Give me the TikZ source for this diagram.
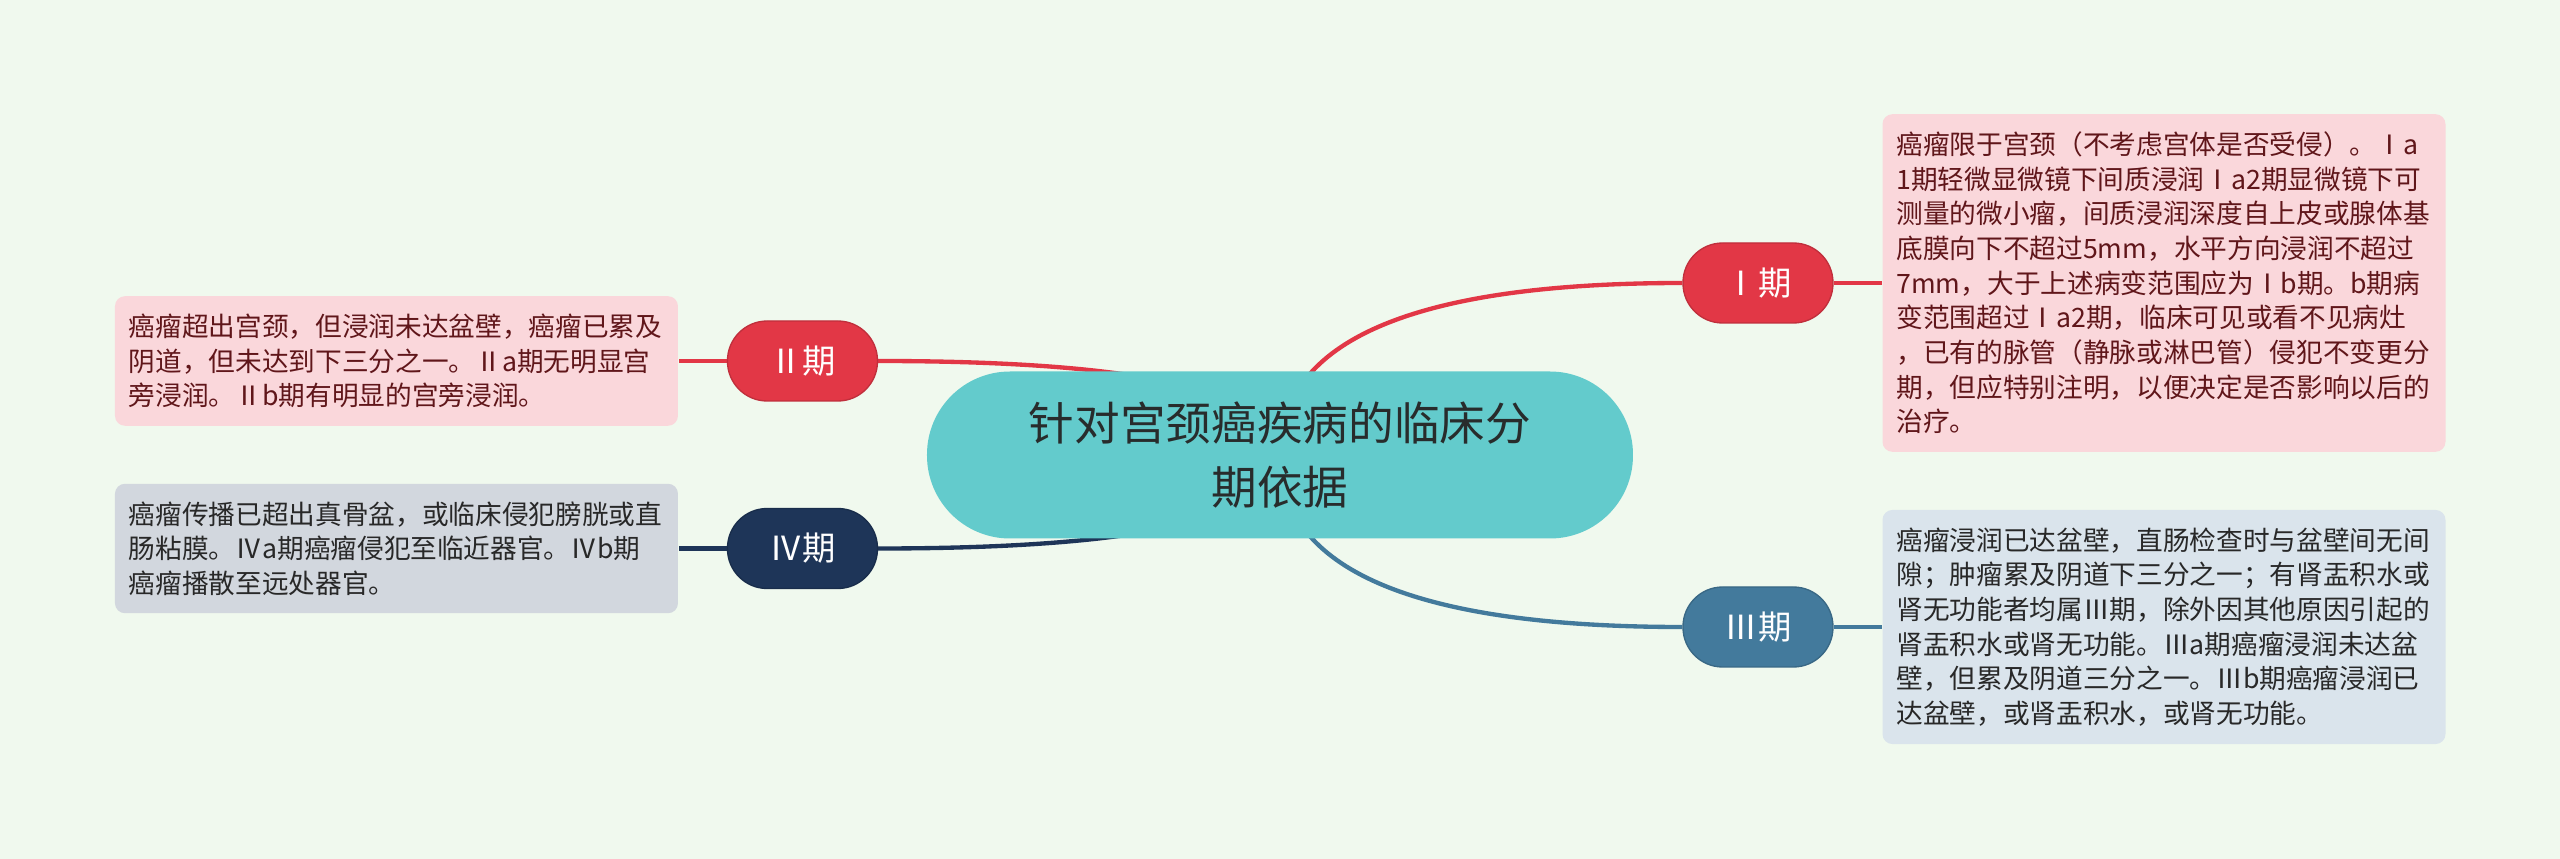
\documentclass[tikz,border=0pt]{standalone}
\usepackage{fontspec}
\setmainfont{Noto Sans CJK SC}
\usepackage{tikz}
\usetikzlibrary{positioning}
\usetikzlibrary{backgrounds}

\begin{document}
\begin{tikzpicture}[x=0.3pt,y=0.3pt,node distance=121.8pt,
	root node/.style={rounded corners=24.9pt,fill=rootcol,text=rootink,minimum width=211.8pt,minimum height=50.1pt,align=center,font=\fontsize{13.7}{19.2}\selectfont},
	stage node/.style={rounded corners=11.9pt,fill=#1,draw=#1!85!black,line width=0.4pt,text=white,minimum width=45pt,minimum height=24pt,font=\fontsize{10}{12}\selectfont},
	note node/.style={rounded corners=3pt,text width=160.5pt,inner xsep=4.2pt,inner ysep=5.3pt,align=left,font=\fontsize{8}{10.4}\selectfont},
	link/.style={draw=#1,line width=1.3pt}]
	
	\definecolor{bgcol}{RGB}{240,249,238}
	\definecolor{rootcol}{RGB}{99,203,204}
	\definecolor{rootink}{RGB}{40,44,44}
	\definecolor{redcol}{RGB}{226,55,70}
	\definecolor{bluecol}{RGB}{67,122,156}
	\definecolor{navycol}{RGB}{30,53,88}
	\definecolor{pinkbox}{RGB}{250,215,219}
	\definecolor{pinkink}{RGB}{96,22,26}
	\definecolor{bluebox}{RGB}{218,228,236}
	\definecolor{graybox}{RGB}{210,215,222}
	\definecolor{darkink}{RGB}{40,40,40}
	
	\useasboundingbox (-1280,-404) rectangle (1280,455);
	
	\node[root node] (root) at (0,0) {针对宫颈癌疾病的临床分\\期依据};
	\node[stage node=redcol] (s1) at (478,172) {Ⅰ期};
	\node[stage node=redcol] (s2) at (-477.5,94) {Ⅱ期};
	\node[stage node=bluecol] (s3) at (478,-172) {Ⅲ期};
	\node[stage node=navycol] (s4) at (-477.5,-93.5) {Ⅳ期};
	
	\node[note node,fill=pinkbox,text=pinkink] (n1) [right of=s1] {癌瘤限于宫颈（不考虑宫体是否受侵）。Ⅰa\\1期轻微显微镜下间质浸润Ⅰa2期显微镜下可\\测量的微小瘤，间质浸润深度自上皮或腺体基\\底膜向下不超过5mm，水平方向浸润不超过\\7mm，大于上述病变范围应为Ⅰb期。b期病\\变范围超过Ⅰa2期，临床可见或看不见病灶\\，已有的脉管（静脉或淋巴管）侵犯不变更分\\期，但应特别注明，以便决定是否影响以后的\\治疗。};
	\node[note node,fill=pinkbox,text=pinkink] (n2) [left of=s2] {癌瘤超出宫颈，但浸润未达盆壁，癌瘤已累及\\阴道，但未达到下三分之一。Ⅱa期无明显宫\\旁浸润。Ⅱb期有明显的宫旁浸润。};
	\node[note node,fill=bluebox,text=darkink] (n3) [right of=s3] {癌瘤浸润已达盆壁，直肠检查时与盆壁间无间\\隙；肿瘤累及阴道下三分之一；有肾盂积水或\\肾无功能者均属Ⅲ期，除外因其他原因引起的\\肾盂积水或肾无功能。Ⅲa期癌瘤浸润未达盆\\壁，但累及阴道三分之一。Ⅲb期癌瘤浸润已\\达盆壁，或肾盂积水，或肾无功能。};
	\node[note node,fill=graybox,text=darkink] (n4) [left of=s4] {癌瘤传播已超出真骨盆，或临床侵犯膀胱或直\\肠粘膜。Ⅳa期癌瘤侵犯至临近器官。Ⅳb期\\癌瘤播散至远处器官。};
	
	\begin{scope}[on background layer]
	\fill[bgcol] (-1280,-404) rectangle (1280,455);
	\draw[link=redcol] (root.center) .. controls +(0,114.7) and +(-268.7,0) .. (s1.west);
	\draw[link=redcol] (root.center) .. controls +(0,62.7) and +(269,0) .. (s2.east);
	\draw[link=bluecol] (root.center) .. controls +(0,-114.7) and +(-268.7,0) .. (s3.west);
	\draw[link=navycol] (root.center) .. controls +(0,-62.3) and +(269,0) .. (s4.east);
	\draw[link=redcol] (s1) -- (n1);
	\draw[link=redcol] (s2) -- (n2);
	\draw[link=bluecol] (s3) -- (n3);
	\draw[link=navycol] (s4) -- (n4);
	\end{scope}
\end{tikzpicture}
\end{document}
